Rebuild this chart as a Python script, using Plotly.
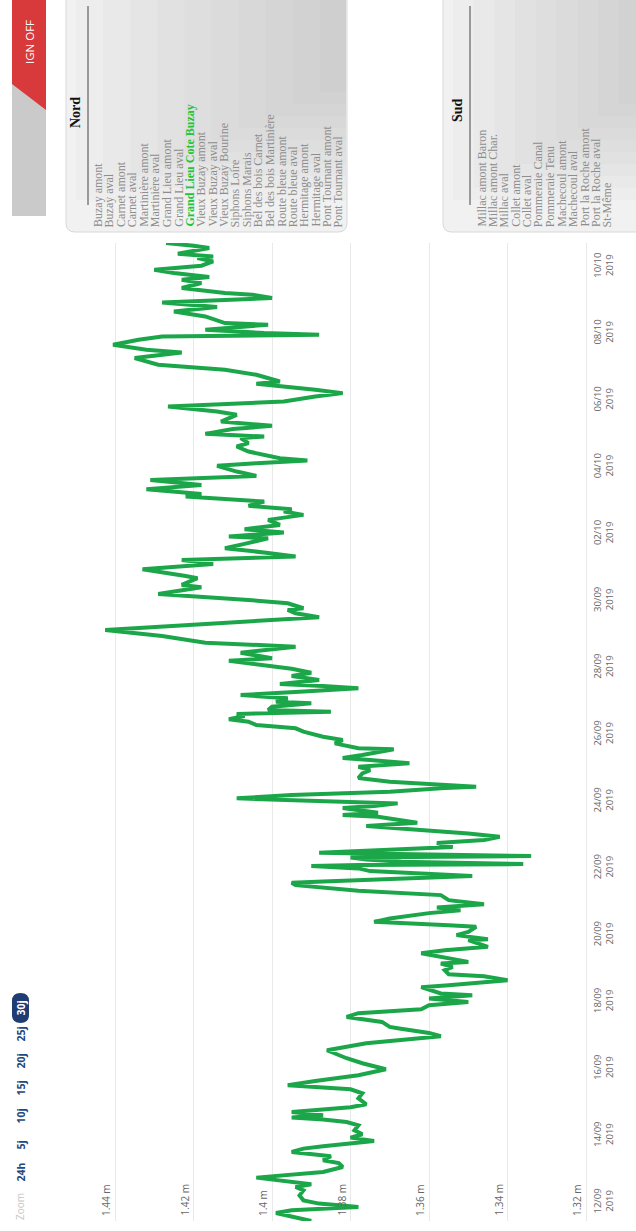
import plotly.graph_objects as go

# ---------------- data ----------------
times = [
    "2019-09-11 10:36", "2019-09-11 16:18", "2019-09-11 18:15", "2019-09-11 20:36", "2019-09-11 23:06",
    "2019-09-12 01:26", "2019-09-12 05:00", "2019-09-12 08:36", "2019-09-12 11:00", "2019-09-12 12:56",
    "2019-09-12 17:45", "2019-09-12 19:24", "2019-09-12 21:48", "2019-09-13 01:22", "2019-09-13 04:14",
    "2019-09-13 06:11", "2019-09-13 09:03", "2019-09-13 12:09", "2019-09-13 14:35", "2019-09-13 16:14",
    "2019-09-13 20:03", "2019-09-13 22:29", "2019-09-14 00:52", "2019-09-14 03:44", "2019-09-14 07:20",
    "2019-09-14 09:42", "2019-09-14 11:26", "2019-09-14 12:52", "2019-09-14 14:31", "2019-09-14 16:53",
    "2019-09-14 18:37", "2019-09-14 20:16", "2019-09-14 22:25", "2019-09-15 02:44", "2019-09-15 06:20",
    "2019-09-15 09:12", "2019-09-15 12:04", "2019-09-15 15:10", "2019-09-15 19:16", "2019-09-15 23:34",
    "2019-09-16 03:53", "2019-09-16 07:29", "2019-09-16 13:13", "2019-09-16 18:15", "2019-09-16 23:17",
    "2019-09-17 01:40", "2019-09-17 05:02", "2019-09-17 05:58", "2019-09-17 09:34", "2019-09-17 13:10",
    "2019-09-17 15:49", "2019-09-17 18:42", "2019-09-17 21:33", "2019-09-17 23:56", "2019-09-18 02:23",
    "2019-09-18 04:45", "2019-09-18 06:00", "2019-09-18 10:30", "2019-09-18 11:56", "2019-09-18 15:31",
    "2019-09-18 18:24", "2019-09-18 19:50", "2019-09-18 22:42", "2019-09-19 01:05", "2019-09-19 03:30",
    "2019-09-19 04:40", "2019-09-19 10:56", "2019-09-19 13:05", "2019-09-19 15:28", "2019-09-19 20:17",
    "2019-09-19 21:00", "2019-09-19 23:53", "2019-09-20 02:14", "2019-09-20 05:49", "2019-09-20 07:03",
    "2019-09-20 09:25", "2019-09-20 11:52", "2019-09-20 15:41", "2019-09-20 17:50", "2019-09-20 19:46",
    "2019-09-20 22:08", "2019-09-21 01:01", "2019-09-21 04:37", "2019-09-21 06:16", "2019-09-21 07:42",
    "2019-09-21 11:47", "2019-09-21 13:27", "2019-09-21 14:27", "2019-09-21 18:16", "2019-09-21 21:52",
    "2019-09-21 23:48", "2019-09-22 01:27", "2019-09-22 02:10", "2019-09-22 02:53", "2019-09-22 04:32",
    "2019-09-22 06:15", "2019-09-22 07:42", "2019-09-22 08:38", "2019-09-22 09:43", "2019-09-22 11:00",
    "2019-09-22 15:06", "2019-09-22 17:58", "2019-09-22 20:09", "2019-09-22 22:30", "2019-09-23 00:55",
    "2019-09-23 06:11", "2019-09-23 08:34", "2019-09-23 11:00", "2019-09-23 12:53", "2019-09-23 14:06",
    "2019-09-23 15:45", "2019-09-23 19:08", "2019-09-23 20:34", "2019-09-23 22:30", "2019-09-24 00:53",
    "2019-09-24 02:06", "2019-09-24 04:29", "2019-09-24 06:51", "2019-09-24 09:30", "2019-09-24 10:25",
    "2019-09-24 14:01", "2019-09-24 16:41", "2019-09-24 20:03", "2019-09-24 22:26", "2019-09-25 00:50",
    "2019-09-25 03:15", "2019-09-25 05:37", "2019-09-25 07:04", "2019-09-25 09:14", "2019-09-25 13:19",
    "2019-09-25 14:02", "2019-09-25 17:37", "2019-09-25 19:59", "2019-09-25 22:22", "2019-09-26 01:58",
    "2019-09-26 04:24", "2019-09-26 06:47", "2019-09-26 09:10", "2019-09-26 10:52", "2019-09-26 13:14",
    "2019-09-26 14:40", "2019-09-26 16:19", "2019-09-26 17:33", "2019-09-26 19:57", "2019-09-26 22:22",
    "2019-09-26 23:31", "2019-09-27 01:56", "2019-09-27 04:19", "2019-09-27 06:43", "2019-09-27 09:08",
    "2019-09-27 10:47", "2019-09-27 12:14", "2019-09-27 15:06", "2019-09-27 17:58", "2019-09-27 20:20",
    "2019-09-27 23:12", "2019-09-28 04:59", "2019-09-28 06:42", "2019-09-28 10:43", "2019-09-28 15:01",
    "2019-09-28 17:55", "2019-09-28 22:45", "2019-09-29 03:02", "2019-09-29 05:10", "2019-09-29 07:50",
    "2019-09-29 09:05", "2019-09-29 12:10", "2019-09-29 15:02", "2019-09-29 17:25", "2019-09-29 18:37",
    "2019-09-29 22:12", "2019-09-30 00:35", "2019-09-30 04:55", "2019-09-30 09:43", "2019-09-30 11:24",
    "2019-09-30 16:12", "2019-09-30 17:50", "2019-09-30 22:40", "2019-10-01 02:29", "2019-10-01 05:20",
    "2019-10-01 07:43", "2019-10-01 10:22", "2019-10-01 13:45", "2019-10-01 16:50", "2019-10-01 20:55",
    "2019-10-01 22:05", "2019-10-02 00:58", "2019-10-02 03:24", "2019-10-02 06:29", "2019-10-02 10:05",
    "2019-10-02 13:40", "2019-10-02 16:04", "2019-10-02 17:47", "2019-10-02 20:09", "2019-10-02 23:14",
    "2019-10-03 02:50", "2019-10-03 04:45", "2019-10-03 08:07", "2019-10-03 11:12", "2019-10-03 14:48",
    "2019-10-03 17:40", "2019-10-03 20:47", "2019-10-04 00:53", "2019-10-04 02:49", "2019-10-04 04:41",
    "2019-10-04 06:25", "2019-10-04 11:10", "2019-10-04 14:46", "2019-10-04 17:11", "2019-10-04 20:47",
    "2019-10-04 21:56", "2019-10-04 23:52", "2019-10-05 03:16", "2019-10-05 05:37", "2019-10-05 08:42",
    "2019-10-05 13:32", "2019-10-05 15:55", "2019-10-05 19:31", "2019-10-05 23:07", "2019-10-06 02:43",
    "2019-10-06 05:07", "2019-10-06 07:30", "2019-10-06 11:55", "2019-10-06 13:29", "2019-10-06 18:19",
    "2019-10-06 21:54", "2019-10-07 01:30", "2019-10-07 06:18", "2019-10-07 10:20", "2019-10-07 12:16",
    "2019-10-07 15:51", "2019-10-07 19:27", "2019-10-07 21:50", "2019-10-07 23:02", "2019-10-08 00:14",
    "2019-10-08 02:37", "2019-10-08 06:13", "2019-10-08 07:25", "2019-10-08 12:12", "2019-10-08 15:47",
    "2019-10-08 18:55", "2019-10-08 22:14", "2019-10-09 01:23", "2019-10-09 03:46", "2019-10-09 04:58",
    "2019-10-09 08:34", "2019-10-09 12:10", "2019-10-09 14:34", "2019-10-09 16:30", "2019-10-09 19:20",
    "2019-10-09 21:43", "2019-10-10 00:36", "2019-10-10 03:41", "2019-10-10 06:07", "2019-10-10 07:17",
    "2019-10-10 09:14", "2019-10-10 13:18", "2019-10-10 14:59", "2019-10-10 16:55",
]

levels = [
    1.390, 1.399, 1.395, 1.378, 1.388,
    1.392, 1.393, 1.392, 1.394, 1.390,
    1.404, 1.398, 1.387, 1.382, 1.383,
    1.387, 1.385, 1.395, 1.392, 1.387,
    1.374, 1.380, 1.377, 1.379, 1.378,
    1.381, 1.387, 1.395, 1.387, 1.395,
    1.387, 1.380, 1.376, 1.378, 1.377,
    1.380, 1.396, 1.389, 1.378, 1.371,
    1.377, 1.381, 1.386, 1.376, 1.357,
    1.360, 1.368, 1.370, 1.372, 1.381,
    1.378, 1.362, 1.360, 1.350, 1.360,
    1.349, 1.357, 1.362, 1.355, 1.340,
    1.346, 1.355, 1.356, 1.354, 1.357,
    1.350, 1.362, 1.356, 1.345, 1.350,
    1.345, 1.353, 1.350, 1.348, 1.355,
    1.374, 1.370, 1.360, 1.352, 1.358,
    1.346, 1.355, 1.357, 1.370, 1.378,
    1.394, 1.395, 1.387, 1.349, 1.375,
    1.378, 1.390, 1.378, 1.336, 1.367,
    1.376, 1.380, 1.334, 1.355, 1.388,
    1.354, 1.358, 1.346, 1.342, 1.350,
    1.376, 1.363, 1.368, 1.373, 1.382,
    1.373, 1.382, 1.374, 1.368, 1.395,
    1.409, 1.395, 1.370, 1.356, 1.348,
    1.370, 1.378, 1.377, 1.375, 1.378,
    1.365, 1.375, 1.382, 1.377, 1.369,
    1.378, 1.384, 1.382, 1.387, 1.392,
    1.394, 1.404, 1.406, 1.411, 1.407,
    1.409, 1.385, 1.401, 1.400, 1.390,
    1.399, 1.396, 1.408, 1.393, 1.378,
    1.387, 1.398, 1.388, 1.395, 1.390,
    1.395, 1.411, 1.400, 1.408, 1.394,
    1.417, 1.428, 1.4425, 1.429, 1.412,
    1.406, 1.388, 1.394, 1.396, 1.392,
    1.396, 1.406, 1.429, 1.418, 1.423,
    1.419, 1.422, 1.433, 1.415, 1.423,
    1.394, 1.401, 1.412, 1.407, 1.401,
    1.411, 1.397, 1.407, 1.398, 1.401,
    1.392, 1.397, 1.395, 1.406, 1.402,
    1.422, 1.418, 1.432, 1.418, 1.431,
    1.404, 1.409, 1.414, 1.404, 1.391,
    1.398, 1.406, 1.409, 1.406, 1.408,
    1.402, 1.417, 1.410, 1.400, 1.413,
    1.409, 1.414, 1.4265, 1.397, 1.389,
    1.382, 1.389, 1.404, 1.398, 1.404,
    1.412, 1.429, 1.435, 1.423, 1.432,
    1.4405, 1.434, 1.428, 1.388, 1.402,
    1.417, 1.401, 1.412, 1.417, 1.425,
    1.414, 1.428, 1.400, 1.405, 1.412,
    1.423, 1.418, 1.423, 1.416, 1.425,
    1.430, 1.418, 1.415, 1.419, 1.415,
    1.424, 1.416, 1.420, 1.427,
]

level_ticks = [1.32, 1.34, 1.36, 1.38, 1.40, 1.42, 1.44]
level_tick_labels = ["1.32 m", "1.34 m", "1.36 m", "1.38 m", "1.4 m", "1.42 m", "1.44 m"]

date_ticks = ["2019-09-12", "2019-09-14", "2019-09-16", "2019-09-18", "2019-09-20",
              "2019-09-22", "2019-09-24", "2019-09-26", "2019-09-28", "2019-09-30",
              "2019-10-02", "2019-10-04", "2019-10-06", "2019-10-08", "2019-10-10"]
date_tick_labels = ["12/09<br>2019", "14/09<br>2019", "16/09<br>2019", "18/09<br>2019",
                    "20/09<br>2019", "22/09<br>2019", "24/09<br>2019", "26/09<br>2019",
                    "28/09<br>2019", "30/09<br>2019", "02/10<br>2019", "04/10<br>2019",
                    "06/10<br>2019", "08/10<br>2019", "10/10<br>2019"]

zoom_buttons = ["24h", "5j", "10j", "15j", "20j", "25j", "30j"]
nord_stations = ["Buzay amont", "Buzay aval", "Carnet amont", "Carnet aval", "Martinière amont",
                 "Martinière aval", "Grand Lieu amont", "Grand Lieu aval", "Grand Lieu Cote Buzay",
                 "Vieux Buzay amont", "Vieux Buzay aval", "Vieux Buzay Bourine", "Siphons Loire",
                 "Siphons Marais", "Bel des bois Carnet", "Bel des bois Martinière",
                 "Route bleue amont", "Route bleue aval", "Hermitage amont", "Hermitage aval",
                 "Pont Tournant amont", "Pont Tournant aval"]
sud_stations = ["Millac amont Baron", "Millac amont Char.", "Millac aval", "Collet amont",
                "Collet aval", "Pommeraie Canal", "Pommeraie Tenu", "Machecoul amont",
                "Machecoul aval", "Port la Roche amont", "Port la Roche aval", "St-Même"]
selected_station = "Grand Lieu Cote Buzay"

# ---------------- layout geometry (pixels) ----------------
W, H = 636, 1231
ML, MR, MT, MB = 95, 46, 243, 10
PW, PH = W - ML - MR, H - MT - MB


def px(x):
    return (x - ML) / PW


def py(y):
    return (H - MB - y) / PH


fig = go.Figure()
fig.add_trace(go.Scatter(
    x=levels, y=times, mode="lines",
    line=dict(color="#1ca64a", width=4),
    hoverinfo="skip", showlegend=False,
))

shapes = []
annotations = []


def rot_text(x, y, text, size, color, family="Open Sans", xa="center", ya="middle"):
    annotations.append(dict(
        x=px(x), y=py(y), xref="paper", yref="paper", text=text, showarrow=False,
        textangle=-90, xanchor=xa, yanchor=ya, font=dict(family=family, size=size, color=color),
    ))


# level labels (inside plot, rotated like the photographed page)
for v, t in zip(level_ticks, level_tick_labels):
    annotations.append(dict(
        x=v, xref="x", y=0, yref="paper", text=t, showarrow=False,
        textangle=-90, xanchor="center", yanchor="bottom", xshift=-9, yshift=3,
        font=dict(family="Open Sans", size=10, color="#666666"),
    ))

# ---- range selector (rotated) ----
rot_text(20, 1207, "Zoom", 10, "#c8c8c8")
btn_y = [1172, 1145, 1116, 1088, 1061, 1034, 1008]
for lbl, yy in zip(zoom_buttons, btn_y):
    col = "#24477d"
    if lbl == "30j":
        shapes.append(dict(type="path", xref="paper", yref="paper",
                           path=f"M {px(12)} {py(1001)} L {px(12)} {py(1015)} "
                                f"Q {px(12)} {py(1023)} {px(20.5)} {py(1023)} "
                                f"Q {px(29)} {py(1023)} {px(29)} {py(1015)} "
                                f"L {px(29)} {py(1001)} "
                                f"Q {px(29)} {py(993)} {px(20.5)} {py(993)} "
                                f"Q {px(12)} {py(993)} {px(12)} {py(1001)} Z",
                           fillcolor="#1f3d73", line=dict(width=0)))
        col = "white"
    rot_text(20.5, yy, f"<b>{lbl}</b>", 10.5, col)

# ---- IGN toggle ----
shapes.append(dict(type="rect", xref="paper", yref="paper", x0=px(12), x1=px(46),
                   y0=py(216), y1=py(-2), fillcolor="#cacaca", line=dict(width=0)))
shapes.append(dict(type="path", xref="paper", yref="paper",
                   path=f"M {px(12)} {py(-2)} L {px(46)} {py(-2)} L {px(46)} {py(110)} "
                        f"L {px(12)} {py(84)} Z",
                   fillcolor="#d8393b", line=dict(width=0)))
rot_text(29, 42, "IGN OFF", 11.5, "white")


def panel(x0, x1, y1, r=9):
    return (f"M {px(x0)} {py(-5)} L {px(x0)} {py(y1 - r)} "
            f"Q {px(x0)} {py(y1)} {px(x0 + r)} {py(y1)} "
            f"L {px(x1 - r)} {py(y1)} Q {px(x1)} {py(y1)} {px(x1)} {py(y1 - r)} "
            f"L {px(x1)} {py(-5)} Z")


for (x0, x1) in [(66, 347), (443, 660)]:
    shapes.append(dict(type="path", xref="paper", yref="paper", path=panel(x0, x1, 232),
                       fillcolor="#f1f1f1", line=dict(color="#d9d9d9", width=1)))
    # gentle shading toward the far (upper-right) side of the panel
    n = 10
    for k in range(n):
        bx0 = x0 + 10 + (x1 - x0 - 10) * k / n
        shapes.append(dict(type="rect", xref="paper", yref="paper",
                           x0=px(bx0), x1=px(x1 - 1), y0=py(200 - 12 * k), y1=py(-5),
                           fillcolor="rgba(150,150,150,0.035)", line=dict(width=0)))

# Nord panel
rot_text(76, 113, "<b>Nord</b>", 14, "#111111", family="Liberation Serif")
shapes.append(dict(type="line", xref="paper", yref="paper", x0=px(88), x1=px(88),
                   y0=py(6), y1=py(205), line=dict(color="#444444", width=1)))
for i, name in enumerate(nord_stations):
    sel = name == selected_station
    rot_text(98 + i * 11.45, 229, f"<b>{name}</b>" if sel else name, 12,
             "#22c43a" if sel else "#8d8d8d", family="Liberation Serif", ya="bottom")

# Sud panel
rot_text(458, 110, "<b>Sud</b>", 14, "#111111", family="Liberation Serif")
shapes.append(dict(type="line", xref="paper", yref="paper", x0=px(470), x1=px(470),
                   y0=py(6), y1=py(205), line=dict(color="#444444", width=1)))
for i, name in enumerate(sud_stations):
    rot_text(481 + i * 11.45, 229, name, 12, "#8d8d8d", family="Liberation Serif", ya="bottom")

fig.update_layout(
    width=W, height=H,
    margin=dict(l=ML, r=MR, t=MT, b=MB, pad=0),
    paper_bgcolor="white", plot_bgcolor="white",
    showlegend=False,
    xaxis=dict(range=[1.4451, 1.319], tickvals=level_ticks, showticklabels=False,
               showgrid=True, gridcolor="#e9e9e9", gridwidth=1, zeroline=False,
               showline=False, ticks=""),
    yaxis=dict(type="date", range=[times[0], times[-1]], side="right",
               tickvals=date_ticks, ticktext=date_tick_labels, tickangle=-90,
               showgrid=False, zeroline=False, showline=False, ticks="",
               tickfont=dict(family="Open Sans", size=9.5, color="#666666")),
    shapes=shapes,
    annotations=annotations,
)

fig.write_html("out.html", config={"displayModeBar": False},
               post_script="document.body.style.margin='0';document.body.style.overflow='hidden';")
